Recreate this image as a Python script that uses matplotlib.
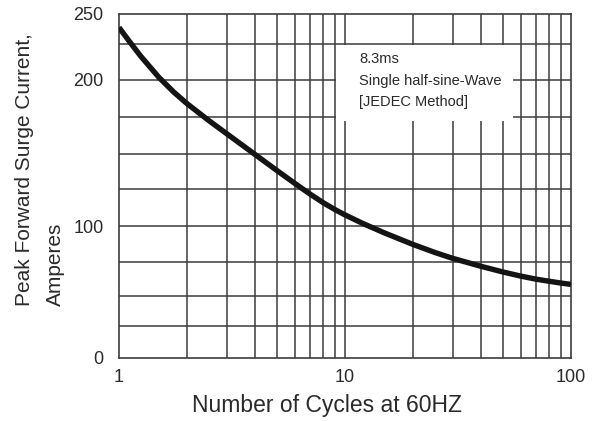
import numpy as np
import matplotlib
matplotlib.use('Agg')
import matplotlib.pyplot as plt
from matplotlib.patches import Rectangle

# surge current curve
cycles = [1, 1.1, 1.25, 1.5, 1.75, 2, 2.5, 3, 4, 5, 6, 7, 8, 9, 10, 12, 15, 20,
          25, 30, 40, 50, 60, 70, 80, 90, 100]
amps = [238.9, 228.5, 216.4, 201.6, 191.5, 183.9, 172.5, 163.5, 149.3, 138.1, 129.1,
        121.8, 116.0, 111.4, 107.7, 101.9, 95.2, 87.1, 81.4, 77.2, 71.5, 67.4, 64.4,
        62.2, 60.7, 59.4, 58.4]

y_ticks = [0, 100, 200, 250]
x_ticks = [1, 10, 100]
x_ticklabels = ['1', '10', '100']

# the printed grid is not quite even; 25 A per division
grid_vals = np.arange(0, 251, 25)
grid_pos = np.array([0, 32, 62, 96.5, 131.7, 168.7, 204.5, 241, 278.5, 313.7, 344])

plt.rcParams['font.family'] = ['Liberation Sans', 'DejaVu Sans']

GRID = '#3c3c3c'
TXT = '#2a2a2a'

fig = plt.figure(figsize=(5.96, 4.21), dpi=100)
ax = fig.add_axes([119 / 596, 1 - 358 / 421, 452 / 596, 344 / 421])

ax.set_xscale('log')
ax.set_yscale('function', functions=(lambda v: np.interp(v, grid_vals, grid_pos),
                                     lambda p: np.interp(p, grid_pos, grid_vals)))
ax.set_xlim(1, 100)
ax.set_ylim(0, 250)

ax.plot(cycles, amps, color='#141414', lw=3.9, solid_capstyle='butt',
        solid_joinstyle='round', zorder=3)

minor_x = [v * d for d in (1, 10) for v in range(2, 10)]
for xv in minor_x + [10]:
    ax.axvline(xv, color=GRID, lw=1.1, zorder=0.5)
for yv in grid_vals[1:-1]:
    ax.axhline(yv, color=GRID, lw=1.1, zorder=0.5)

# white patch behind the note
ax.add_patch(Rectangle((9.1, 172), 55.4 - 9.1, 224.3 - 172, facecolor='white',
                       edgecolor='none', zorder=1))
ax.text(0.531, 0.889, '8.3ms\nSingle half-sine-Wave\n[JEDEC Method]',
        transform=ax.transAxes, ha='left', va='top', fontsize=10.5,
        linespacing=1.68, color=TXT, zorder=4)

ax.set_xticks(x_ticks)
ax.set_xticklabels(x_ticklabels)
ax.xaxis.set_minor_locator(matplotlib.ticker.NullLocator())
ax.set_yticks(y_ticks)
ax.set_yticklabels([str(v) for v in y_ticks])
ax.tick_params(length=0, labelsize=13, colors=TXT)
ax.tick_params(axis='x', pad=8)
ax.tick_params(axis='y', pad=11)

for s in ax.spines.values():
    s.set_color(GRID)
    s.set_linewidth(1.2)

ax.set_xlabel('Number of Cycles at 60HZ', fontsize=16.5, color=TXT, labelpad=5)
ax.xaxis.set_label_coords((327 - 119) / 452, -0.105)
fig.text(40 / 596, 1 - 170 / 421, 'Peak Forward Surge Current,\nAmperes',
         rotation=90, ha='center', va='center', multialignment='left',
         fontsize=15, color=TXT, linespacing=1.75)

fig.savefig('out.png', dpi=100)
